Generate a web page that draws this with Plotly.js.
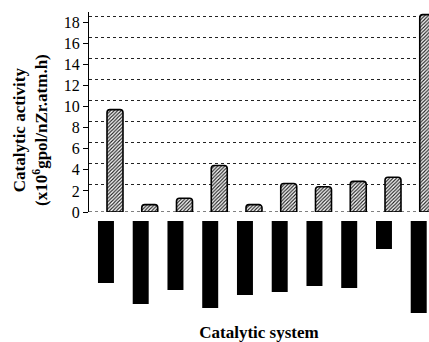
<!DOCTYPE html>
<html>
<head>
<meta charset="utf-8">
<script src="https://cdn.plot.ly/plotly-3.0.1.min.js"></script>
<style>html,body{margin:0;padding:0;background:#fff;}#chart{width:429px;height:342px;}</style>
</head>
<body>
<div id="chart"></div>
<script>
// Data
var categories = [1, 2, 3, 4, 5, 6, 7, 8, 9, 10];
var activity = [9.7, 0.7, 1.3, 4.4, 0.7, 2.7, 2.4, 2.9, 3.3, 18.7];   // x10^6 gpol/nZr.atm.h
var lowerSeries = [6.2, 8.3, 6.9, 8.7, 7.4, 7.1, 6.5, 6.7, 2.8, 9.2]; // second (unlabelled) quantity, drawn downward
var yTicks = [0, 2, 4, 6, 8, 10, 12, 14, 16, 18];
var gridTicks = [2, 4, 6, 8, 10, 12, 14, 16, 18];

var xIdx = categories.map(function(c, i){ return i; });

var serif = 'Liberation Serif, Times New Roman, serif';

var traces = [
  {
    type: 'bar',
    x: xIdx,
    y: activity,
    xaxis: 'x', yaxis: 'y',
    width: 0.46,
    marker: {
      color: '#ffffff',
      line: {color: '#000000', width: 1.6},
      pattern: {shape: '/', fgcolor: '#222222', bgcolor: '#ffffff', size: 2.5, solidity: 0.45},
      cornerradius: 3
    },
    hoverinfo: 'skip'
  },
  {
    type: 'bar',
    x: xIdx,
    y: lowerSeries,
    xaxis: 'x', yaxis: 'y2',
    width: 0.46,
    offset: -0.49,
    marker: {color: '#000000', line: {width: 0}},
    hoverinfo: 'skip'
  }
];

var layout = {
  width: 429, height: 342,
  margin: {l: 89, r: 0, t: 12, b: 29},
  paper_bgcolor: '#ffffff',
  plot_bgcolor: 'rgba(0,0,0,0)',
  showlegend: false,
  barmode: 'overlay',
  font: {family: serif, color: '#000000', size: 16},
  xaxis: {
    anchor: 'y2',
    range: [-0.748, 9.036],
    showgrid: false, zeroline: false, showline: false,
    showticklabels: false, ticks: '',
    title: {text: '<b>Catalytic system</b>', font: {family: serif, size: 17, color: '#000'}, standoff: 14}
  },
  yaxis: {
    domain: [0.3355, 1],
    anchor: 'x',
    range: [0, 18.95],
    tickvals: yTicks,
    ticktext: yTicks.map(String),
    ticks: 'outside', ticklen: 5, tickcolor: '#000', tickwidth: 1,
    showline: true, linecolor: '#000', linewidth: 1,
    showgrid: false, zeroline: false,
    tickfont: {family: serif, size: 16, color: '#000'}
  },
  yaxis3: {
    overlaying: 'y',
    anchor: 'x',
    range: [-0.57, 18.38],
    tickvals: gridTicks,
    showticklabels: false, ticks: '',
    showgrid: true, griddash: 'dot', gridcolor: '#222222', gridwidth: 1,
    zeroline: false, showline: false
  },
  yaxis2: {
    domain: [0, 0.3056],
    anchor: 'x',
    range: [9.2, 0],
    visible: false
  },
  shapes: [
    {type: 'line', xref: 'paper', yref: 'y', x0: 0, x1: 1, y0: 0, y1: 0,
     line: {color: '#000', width: 1, dash: 'dot'}}
  ],
  annotations: [
    {
      xref: 'paper', yref: 'paper',
      x: -0.1706, y: 0.608,
      xanchor: 'center', yanchor: 'middle',
      textangle: -90,
      showarrow: false,
      text: '<b>Catalytic activity</b><br><b>(x10<sup>6</sup>gpol/nZr.atm.h)</b>',
      font: {family: serif, size: 17, color: '#000'}
    }
  ]
};

// an empty trace so that the grid overlay axis is drawn
traces.push({type: 'scatter', x: [], y: [], xaxis: 'x', yaxis: 'y3', hoverinfo: 'skip'});

Plotly.newPlot('chart', traces, layout, {displayModeBar: false, staticPlot: true});
</script>
</body>
</html>
